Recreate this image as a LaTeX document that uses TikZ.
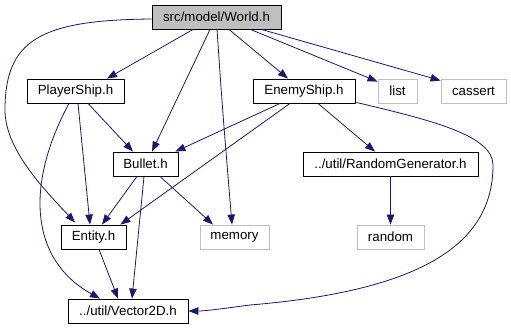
\documentclass[tikz,border=0pt]{standalone}
\usepackage{fontspec}
\setmainfont{Liberation Sans}
\usetikzlibrary{arrows.meta,calc}
\definecolor{edgeblue}{HTML}{191970}
\definecolor{sysgray}{HTML}{C0C0C0}
\definecolor{rootfill}{HTML}{BFBFBF}
\begin{document}
\begin{tikzpicture}[x=1pt,y=-1pt,
  file/.style={draw=black,line width=0.9pt,minimum height=24pt,inner sep=0pt,
    font=\fontsize{13.3}{15}\selectfont},
  sysfile/.style={file,draw=sysgray},
  rootfile/.style={file,fill=rootfill},
  dep/.style={draw=edgeblue,line width=0.8pt,-{Triangle[length=10pt,width=7.5pt]}}]
\useasboundingbox (0,0) rectangle (511,329);

% header files
\node[rootfile,minimum width=129pt] (w)  at (216.5,17) {src/model/World.h};
\node[file,minimum width=97pt]      (p)  at (75.5,91)  {PlayerShip.h};
\node[file,minimum width=102pt]     (e)  at (304,91)   {EnemyShip.h};
\node[sysfile,minimum width=39pt]   (l)  at (397.5,91) {list};
\node[sysfile,minimum width=65pt]   (c)  at (473.5,91) {cassert};
\node[file,minimum width=65pt]      (b)  at (145.5,164){Bullet.h};
\node[file,minimum width=175pt]     (rg) at (390.5,164){../util/RandomGenerator.h};
\node[file,minimum width=65pt]      (en) at (93.5,237) {Entity.h};
\node[sysfile,minimum width=69pt]   (m)  at (234.5,237){memory};
\node[sysfile,minimum width=67pt]   (r)  at (390.5,237){random};
\node[file,minimum width=120pt]     (v)  at (128,311)  {../util/Vector2D.h};

% includes of World.h
\draw[dep] ($(w.south)+(-23.5,0)$) -- ($(p.north)+(31.5,0)$);
\draw[dep] ($(w.south)+(-6.5,0)$) -- ($(b.north)+(6.5,0)$);
\draw[dep] ($(w.south)+(0.5,0)$) .. controls ($(w.south)+(6,80)$) .. ($(m.north)+(-2.5,0)$);
\draw[dep] ($(w.south)+(12.5,0)$) -- ($(e.north)+(-16,0)$);
\draw[dep] ($(w.south)+(34,0)$) -- ($(l.north west)+(0,3)$);
\draw[dep] ($(w.south east)+(-20,0)$) -- ($(c.north west)+(0,2)$);
\draw[dep] ($(w.west)+(0,2)$) .. controls (40,20) and (5,40) .. (5,110)
  .. controls (5,150) and (45,190) .. ($(en.north)+(-18.5,-2)$);

% includes of PlayerShip.h
\draw[dep] ($(p.south)+(12.5,0)$) -- ($(b.north)+(-12.5,0)$);
\draw[dep] ($(p.south)+(2.5,0)$) -- ($(en.north)+(-3.5,0)$);
\draw[dep] ($(p.south)+(-6.5,0)$) .. controls (25,185) and (30,260) .. ($(v.north)+(-28,0)$);

% includes of EnemyShip.h
\draw[dep] ($(e.south)+(-24,0)$) -- ($(b.north east)+(-3,0)$);
\draw[dep] ($(e.south)+(-14,0)$) -- ($(en.north east)+(-6,0)$);
\draw[dep] ($(e.south)+(14,0)$) -- ($(rg.north)+(-15.5,0)$);
\draw[dep] ($(e.south east)+(1,-1)$) .. controls (430,120) and (493,135) .. (493,165)
  .. controls (493,240) and (430,290) .. (250,305)
  .. controls (220,309) and (205,311) .. (v.east);

% includes of Bullet.h
\draw[dep] ($(b.south)+(-8.5,0)$) -- ($(en.north)+(8.5,0)$);
\draw[dep] ($(b.south)+(-1.5,0)$) -- ($(v.north)+(4,0)$);
\draw[dep] ($(b.south)+(14.5,0)$) -- ($(m.north)+(-21.5,0)$);

% remaining includes
\draw[dep] ($(en.south)+(5.5,0)$) -- ($(v.north)+(-10,0)$);
\draw[dep] (rg.south) -- (r.north);
\end{tikzpicture}
\end{document}
